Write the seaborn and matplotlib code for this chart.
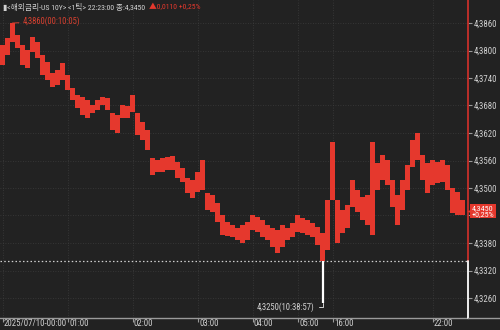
import matplotlib
matplotlib.use('Agg')
import matplotlib.pyplot as plt
from matplotlib import font_manager as fm
from matplotlib.transforms import ScaledTranslation
import seaborn as sns
import numpy as np
import pandas as pd

# ---- data ----
high = [4.3812, 4.3827, 4.3860, 4.3834, 4.3812, 4.3801, 4.3829, 4.3819, 4.3790, 4.3775,
        4.3751, 4.3758, 4.3773, 4.3747, 4.3718, 4.3703, 4.3699, 4.3692, 4.3681, 4.3692,
        4.3699, 4.3696, 4.3664, 4.3659, 4.3681, 4.3679, 4.3703, 4.3664, 4.3644, 4.3627,
        4.3566, 4.3561, 4.3566, 4.3568, 4.3570, 4.3557, 4.3544, 4.3522, 4.3518, 4.3535,
        4.3561, 4.3489, 4.3485, 4.3468, 4.3441, 4.3426, 4.3420, 4.3413, 4.3420, 4.3426,
        4.3441, 4.3437, 4.3431, 4.3420, 4.3413, 4.3409, 4.3420, 4.3413, 4.3424, 4.3441,
        4.3435, 4.3431, 4.3424, 4.3415, 4.3402, 4.3474, 4.3601, 4.3474, 4.3452, 4.3463,
        4.3518, 4.3496, 4.3481, 4.3485, 4.3601, 4.3555, 4.3572, 4.3561, 4.3518, 4.3485,
        4.3518, 4.3550, 4.3605, 4.3620, 4.3572, 4.3555, 4.3561, 4.3557, 4.3561, 4.3550,
        4.3500, 4.3492, 4.3474]
low = [4.3768, 4.3790, 4.3819, 4.3805, 4.3768, 4.3762, 4.3797, 4.3784, 4.3747, 4.3736,
       4.3720, 4.3725, 4.3736, 4.3714, 4.3692, 4.3675, 4.3659, 4.3653, 4.3664, 4.3670,
       4.3681, 4.3670, 4.3627, 4.3620, 4.3653, 4.3653, 4.3666, 4.3616, 4.3605, 4.3583,
       4.3529, 4.3535, 4.3535, 4.3540, 4.3540, 4.3522, 4.3513, 4.3489, 4.3479, 4.3492,
       4.3496, 4.3452, 4.3448, 4.3426, 4.3398, 4.3396, 4.3393, 4.3387, 4.3380, 4.3387,
       4.3409, 4.3404, 4.3393, 4.3387, 4.3372, 4.3359, 4.3372, 4.3387, 4.3393, 4.3404,
       4.3402, 4.3398, 4.3393, 4.3376, 4.3250, 4.3365, 4.3474, 4.3380, 4.3402, 4.3413,
       4.3459, 4.3448, 4.3431, 4.3420, 4.3398, 4.3496, 4.3518, 4.3507, 4.3459, 4.3420,
       4.3452, 4.3496, 4.3546, 4.3561, 4.3518, 4.3489, 4.3507, 4.3511, 4.3513, 4.3496,
       4.3446, 4.3441, 4.3441]
prev_close = 4.3340
last_price = 4.3450
change = 0.0110
change_pct = 0.25
high_time = '00:10:05'
low_time = '10:38:57'
tick_idx = [0, 13, 26, 39, 50, 59, 66, 86]
tick_labels = ['2025/07/10-00:00', '01:00', '02:00', '03:00', '04:00', '05:00', '16:00', '22:00']
y_ticks = [4.3260, 4.3320, 4.3380, 4.3440, 4.3500, 4.3560, 4.3620, 4.3680, 4.3740, 4.3800, 4.3860]
title = '<해외금리-US 10Y> <1틱> 22:23:00 종:'

# ---- style ----
BG = '#222222'
RED = '#e5382d'
GRID = '#3d3d3d'
TXT = '#d2d2d2'
sns.set_theme(style='dark')
avail = {f.name for f in fm.fontManager.ttflist}
cands = ['Liberation Sans Narrow', 'Roboto Condensed', 'Arial Narrow', 'PT Sans Narrow',
         'Archivo Narrow', 'Pragati Narrow', 'Barlow Semi Condensed', 'Barlow Condensed',
         'IBM Plex Sans Condensed', 'Fira Sans Condensed', 'Encode Sans Condensed',
         'Asap Condensed', 'Open Sans Condensed', 'Liberation Sans']
narrow = next((c for c in cands if c in avail), 'DejaVu Sans')
plt.rcParams['font.family'] = [narrow, 'Noto Sans CJK KR', 'DejaVu Sans']

fig = plt.figure(figsize=(5, 3.3), dpi=100, facecolor=BG)
ax = fig.add_axes([0, 12 / 330, 468 / 500, 318 / 330], facecolor=BG)

fmt = lambda v: f'{v:.4f}'.replace('.', ',')

n = len(high)
hi = np.array(high)
lo = np.array(low)
base = np.maximum(lo, prev_close)
df = pd.DataFrame({'idx': np.arange(n), 'h': hi - base})
sns.barplot(data=df, x='idx', y='h', bottom=base, color=RED, width=1.0,
            linewidth=0, saturation=1, errorbar=None, ax=ax, zorder=3)
below = np.where(lo < prev_close)[0]
ax.vlines(below, lo[below], prev_close, color='white', lw=1.6, zorder=3)

ax.axhline(prev_close, color='#cfcfcf', ls=(0, (1.2, 1.8)), lw=0.9, zorder=2)

ymin = 4.3860 - 295 * 0.006 / 27.5
ymax = 4.3860 + 23 * 0.006 / 27.5
ax.set_xlim(-0.5, 468 / 5 - 0.5)
ax.set_ylim(ymin, ymax)

ax.set_xticks(tick_idx)
ax.set_xticklabels(tick_labels, ha='left')
ax.set_yticks(y_ticks)
ax.set_yticklabels(['' if abs(v - last_price) < 0.0015 else fmt(v) for v in y_ticks])
ax.yaxis.tick_right()
ax.set_xlabel('')
ax.set_ylabel('')
ax.grid(True, color=GRID, ls=(0, (1, 2)), lw=0.6, zorder=0)
ax.tick_params(axis='x', colors='#9a9a9a', labelcolor=TXT, labelsize=6.3,
               length=3, width=0.8, pad=-2.5, direction='out', bottom=True)
ax.tick_params(axis='y', colors='#9a9a9a', labelcolor=TXT, labelsize=6.3,
               length=3, width=0.8, pad=1, right=True, left=False)
for lab in ax.get_xticklabels():
    lab.set_transform(lab.get_transform() + ScaledTranslation(1.5 / 100, 0, fig.dpi_scale_trans))
for s in ['top', 'left', 'right']:
    ax.spines[s].set_visible(False)
ax.spines['bottom'].set_color('#9a9a9a')
ax.spines['bottom'].set_linewidth(1.0)

fig.add_artist(plt.Line2D([468 / 500, 1], [12 / 330, 12 / 330], color='#9a9a9a', lw=1.0))

yt = ax.get_yaxis_transform()
ax.plot([1, 1], [prev_close, ymax], color='#c8302a', lw=1.3, transform=yt, clip_on=False, zorder=5)
ax.plot([1, 1], [ymin, prev_close], color='white', lw=1.3, transform=yt, clip_on=False, zorder=5)

ax.plot([1.004], [last_price], marker='<', ms=5, color=RED, mec='none', transform=yt,
        clip_on=False, zorder=6)
ax.text(1.008, last_price, f'{fmt(last_price)}\n+{change_pct:.2f}%'.replace('.', ','),
        transform=yt, ha='left', va='center', fontsize=5.8, color='white', linespacing=0.9,
        bbox=dict(boxstyle='square,pad=0.2', fc=RED, ec='none'), clip_on=False, zorder=7)

hi_i = int(np.argmax(hi))
lo_i = int(np.argmin(lo))
ax.annotate(f'{fmt(hi[hi_i])}({high_time})', xy=(hi_i, hi[hi_i]), xytext=(7, 1),
            textcoords='offset points', ha='left', va='center', fontsize=6.2, color='#d8402f',
            arrowprops=dict(arrowstyle='-', color='#d8402f', lw=0.7, shrinkA=0, shrinkB=0), zorder=6)
ax.annotate(f'{fmt(lo[lo_i])}({low_time})', xy=(lo_i, lo[lo_i]), xytext=(-6, -3),
            textcoords='offset points', ha='right', va='center', fontsize=6.2, color=TXT,
            arrowprops=dict(arrowstyle='-', color=TXT, lw=0.7, shrinkA=1, shrinkB=0,
                            connectionstyle='angle,angleA=0,angleB=90,rad=0'), zorder=6)

t1 = fig.text(3 / 500, 1 - 7 / 330, '▮' + title + fmt(last_price), ha='left', va='center',
              fontsize=5.6, color=TXT)
r = fig.canvas.get_renderer()
bb = t1.get_window_extent(renderer=r)
x2 = (bb.x1 + 4) / fig.bbox.width
fig.text(x2, 1 - 7 / 330, f'▲{fmt(change)} +{change_pct:.2f}%'.replace('.', ','),
         ha='left', va='center', fontsize=5.6, color=RED)

fig.savefig('out.png', dpi=100, facecolor=BG)
